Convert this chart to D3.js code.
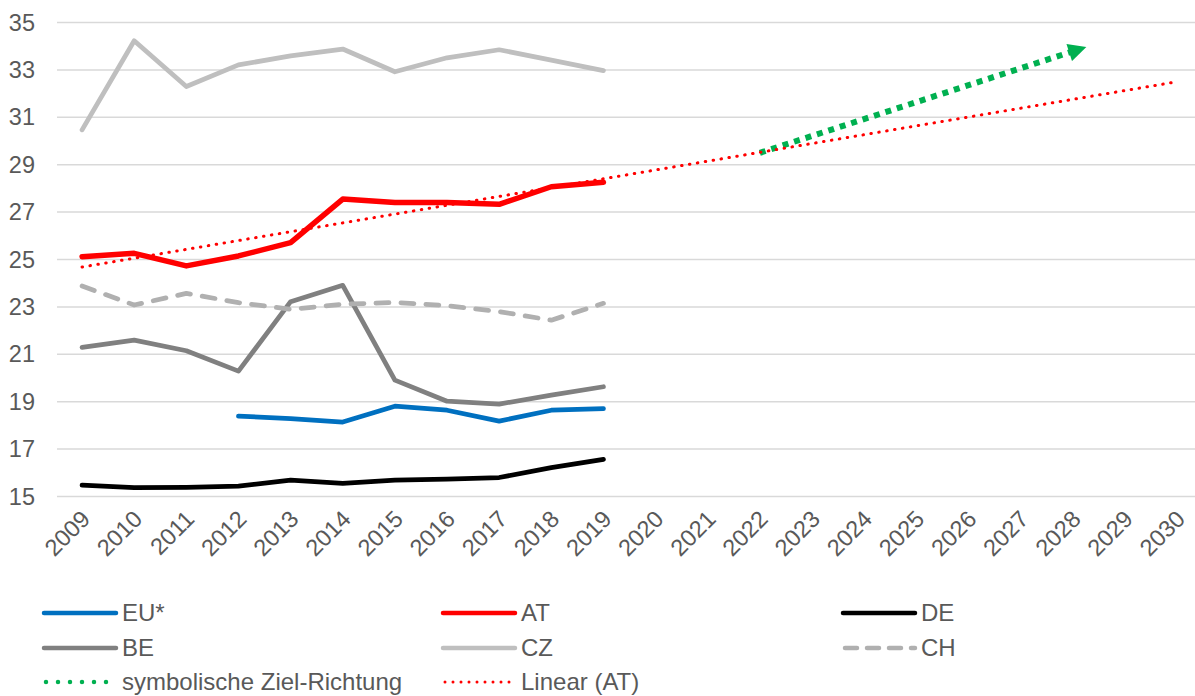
<!DOCTYPE html>
<html>
<head>
<meta charset="utf-8">
<script src="https://cdn.jsdelivr.net/npm/d3@7"></script>
<style>
    body { margin: 0; background: #fff; }
    svg text { font-family: "Liberation Sans", Arial, sans-serif; fill: #595959; }
</style>
</head>
<body>
<div id="chart"></div>
<script>
// categories and tick labels
const years = ["2009", "2010", "2011", "2012", "2013", "2014", "2015", "2016", "2017", "2018", "2019",
    "2020", "2021", "2022", "2023", "2024", "2025", "2026", "2027", "2028", "2029", "2030"];
const yTicks = [15, 17, 19, 21, 23, 25, 27, 29, 31, 33, 35];

// series values 2009..2019 (null = no value)
const euValues = [null, null, null, 18.39, 18.29, 18.14, 18.81, 18.64, 18.18, 18.64, 18.71];
const atValues = [25.12, 25.26, 24.73, 25.15, 25.71, 27.55, 27.41, 27.40, 27.33, 28.07, 28.26];
const deValues = [15.48, 15.37, 15.39, 15.44, 15.69, 15.55, 15.69, 15.73, 15.80, 16.22, 16.57];
const beValues = [21.29, 21.60, 21.15, 20.29, 23.22, 23.91, 19.91, 19.02, 18.90, 19.28, 19.63];
const czValues = [30.47, 34.23, 32.30, 33.21, 33.59, 33.88, 32.92, 33.51, 33.85, 33.41, 32.97];
const chValues = [23.88, 23.08, 23.57, 23.18, 22.90, 23.11, 23.19, 23.05, 22.80, 22.44, 23.15];

// symbolic target direction (start / end)
const targetYears = ["2022", "2028"];
const targetValues = [29.5, 33.78];

const width = 1195, height = 696;
const fontSize = "23.5px";

const svg = d3.select("#chart")
    .append("svg")
    .attr("width", width)
    .attr("height", height);

// scales
const x = d3.scalePoint()
    .domain(years)
    .range([56, 1203])
    .padding(0.5);
const y = d3.scaleLinear()
    .domain([15, 35])
    .range([496.5, 22.5]);

// gridlines
svg.append("g")
    .selectAll("line")
    .data(yTicks)
    .enter()
    .append("line")
    .attr("x1", 57)
    .attr("x2", 1203)
    .attr("y1", d => y(d))
    .attr("y2", d => y(d))
    .attr("stroke", "#d9d9d9")
    .attr("stroke-width", 1.5);

// y axis labels
const yAxis = svg.append("g")
    .attr("transform", "translate(56,0)")
    .call(d3.axisLeft(y).tickValues(yTicks).tickSize(0).tickPadding(21));
yAxis.select(".domain").remove();
yAxis.selectAll("text")
    .style("font-size", fontSize)
    .attr("fill", "#595959");

// x axis labels
const xAxis = svg.append("g")
    .attr("transform", "translate(0,496.5)")
    .call(d3.axisBottom(x).tickSize(0));
xAxis.select(".domain").remove();
xAxis.selectAll("text")
    .style("font-size", fontSize)
    .attr("fill", "#595959")
    .attr("y", 0)
    .attr("dy", 0)
    .attr("transform", "translate(9,24)rotate(-45)")
    .style("text-anchor", "end");

// series
const series = [
    {name: "EU*", values: euValues, color: "#0070c0", width: 4.75},
    {name: "AT", values: atValues, color: "#ff0000", width: 5.5},
    {name: "DE", values: deValues, color: "#000000", width: 4.75},
    {name: "BE", values: beValues, color: "#808080", width: 4.75},
    {name: "CZ", values: czValues, color: "#bfbfbf", width: 4.75},
    {name: "CH", values: chValues, color: "#b0b0b0", width: 4.75, dash: "13 12"}
];

const line = d3.line()
    .defined(d => d.v !== null)
    .x(d => x(d.year))
    .y(d => y(d.v));

for(const s of series) {
    const pts = s.values.map((v, i) => ({year: years[i], v: v}));
    svg.append("path")
        .datum(pts)
        .attr("d", line)
        .attr("fill", "none")
        .attr("stroke", s.color)
        .attr("stroke-width", s.width)
        .attr("stroke-linejoin", "round")
        .attr("stroke-linecap", "round")
        .attr("stroke-dasharray", s.dash || null);
}

// green arrow head
svg.append("defs")
    .append("marker")
    .attr("id", "arrow")
    .attr("markerUnits", "userSpaceOnUse")
    .attr("viewBox", "0 0 10 10")
    .attr("refX", 2)
    .attr("refY", 5)
    .attr("markerWidth", 19)
    .attr("markerHeight", 18)
    .attr("orient", "auto")
    .append("path")
    .attr("d", "M0,0L10,5L0,10Z")
    .attr("fill", "#00b050");

svg.append("path")
    .datum(targetYears.map((yr, i) => ({year: yr, v: targetValues[i]})))
    .attr("d", line)
    .attr("fill", "none")
    .attr("stroke", "#00b050")
    .attr("stroke-width", 6)
    .attr("stroke-dasharray", "6 6")
    .attr("marker-end", "url(#arrow)");

// linear trend of AT, forecast to 2030
const meanX = d3.mean(atValues, (v, i) => i);
const meanY = d3.mean(atValues);
const slope = d3.sum(atValues, (v, i) => (i - meanX) * (v - meanY)) / d3.sum(atValues, (v, i) => (i - meanX) * (i - meanX));
const intercept = meanY - slope * meanX;
const trend = [0, years.length - 1].map(i => ({year: years[i], v: intercept + slope * i}));

svg.append("path")
    .datum(trend)
    .attr("d", line)
    .attr("fill", "none")
    .attr("stroke", "#ff0000")
    .attr("stroke-width", 3)
    .attr("stroke-linecap", "round")
    .attr("stroke-dasharray", "0.5 7.5");

// legend
const legendItems = [
    {name: "EU*", color: "#0070c0", col: 0, row: 0},
    {name: "AT", color: "#ff0000", col: 1, row: 0},
    {name: "DE", color: "#000000", col: 2, row: 0},
    {name: "BE", color: "#808080", col: 0, row: 1},
    {name: "CZ", color: "#bfbfbf", col: 1, row: 1},
    {name: "CH", color: "#b0b0b0", col: 2, row: 1, dash: "12 10"},
    {name: "symbolische Ziel-Richtung", color: "#00b050", col: 0, row: 2, dash: "0 12", width: 4.5},
    {name: "Linear (AT)", color: "#ff0000", col: 1, row: 2, dash: "0 8", width: 3}
];
const colX = [44, 443, 843], rowY = [613, 648, 682];

const legend = svg.append("g")
    .selectAll("g")
    .data(legendItems)
    .enter()
    .append("g")
    .attr("transform", d => `translate(${colX[d.col]},${rowY[d.row]})`);

legend.append("line")
    .attr("x1", d => d.dash ? 2 : 0)
    .attr("x2", 72)
    .attr("stroke", d => d.color)
    .attr("stroke-width", d => d.width || 4.5)
    .attr("stroke-linecap", "round")
    .attr("stroke-dasharray", d => d.dash || null);

legend.append("text")
    .attr("x", 78)
    .attr("dy", "0.35em")
    .style("font-size", "24px")
    .text(d => d.name);
</script>
</body>
</html>
